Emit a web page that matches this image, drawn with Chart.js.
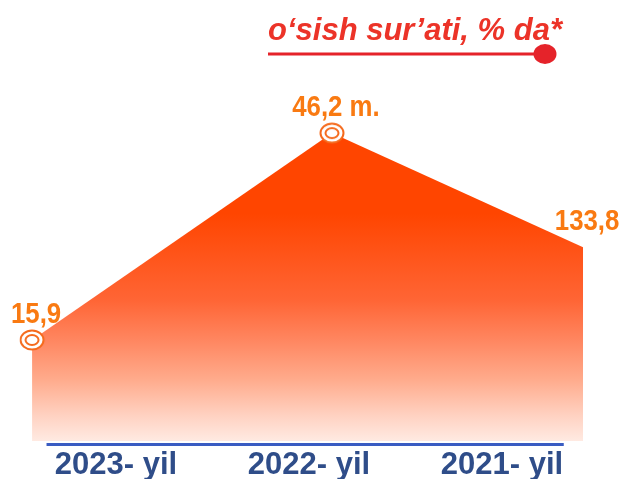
<!DOCTYPE html>
<html>
<head>
<meta charset="utf-8">
<script src="https://cdn.jsdelivr.net/npm/chart.js@4"></script>
<style>
html,body{margin:0;padding:0;background:#ffffff;overflow:hidden}
#wrap{position:relative;width:623px;height:479px}
</style>
</head>
<body>
<div id="wrap"><canvas id="c" width="623" height="479"></canvas></div>
<script>
// ---- data ----
const categories  = ['2023- yil', '2022- yil', '2021- yil'];
const valueLabels = ['15,9', '46,2 m.', '133,8'];
const pointPos    = [-0.435, 1.119, 2.42];   // where each point sits along the year axis (category units)
const heights     = [28.0, 85.3, 53.7];      // drawn height of the area at each point (% of plot height)
const legendText  = 'o\u2018sish sur\u2019ati, % da*';

// ---- styles ----
const ORANGE_TXT = '#f97a12';
const RING = '#f56a1c';
const RED = '#e5232a';
const BLUE_TXT = '#2f4d89';
const BLUE_LINE = '#3a5cc2';

function ringImage() {
  const w = 28, h = 24;
  const c = document.createElement('canvas');
  c.width = w; c.height = h;
  const g = c.getContext('2d');
  g.fillStyle = '#ffffff';
  g.strokeStyle = RING;
  g.lineWidth = 2;
  g.beginPath(); g.ellipse(w/2, h/2, 11.5, 9.5, 0, 0, Math.PI*2); g.fill(); g.stroke();
  g.beginPath(); g.ellipse(w/2, h/2, 6.5, 5, 0, 0, Math.PI*2); g.stroke();
  return c;
}
const ring = ringImage();

const valueLabelPlugin = {
  id: 'valueLabels',
  afterDatasetsDraw(chart) {
    const ctx = chart.ctx;
    const meta = chart.getDatasetMeta(0);
    meta.data.forEach((pt, i) => {
      ctx.save();
      ctx.fillStyle = ORANGE_TXT;
      ctx.font = 'bold 30px "Liberation Sans", Arial, sans-serif';
      ctx.textAlign = 'center';
      ctx.textBaseline = 'alphabetic';
      ctx.translate(pt.x + 4, pt.y - 17);
      ctx.scale(0.86, 1);
      ctx.fillText(valueLabels[i], 0, 0);
      ctx.restore();
    });
  }
};

const baselinePlugin = {
  id: 'baseline',
  afterDraw(chart, args, opts) {
    const ctx = chart.ctx;
    const xs = chart.scales.x;
    const y = chart.chartArea.bottom + 3.5;
    ctx.save();
    ctx.strokeStyle = BLUE_LINE;
    ctx.lineWidth = 3;
    ctx.beginPath();
    ctx.moveTo(xs.getPixelForValue(opts.from), y);
    ctx.lineTo(xs.getPixelForValue(opts.to), y);
    ctx.stroke();
    ctx.restore();
  }
};

const legendPlugin = {
  id: 'legendLine',
  afterDraw(chart) {
    const ctx = chart.ctx;
    ctx.save();
    ctx.fillStyle = '#ec3328';
    ctx.font = 'italic bold 31px "Liberation Sans", Arial, sans-serif';
    ctx.textAlign = 'left';
    ctx.textBaseline = 'alphabetic';
    ctx.fillText(legendText, 268, 40);
    ctx.strokeStyle = RED;
    ctx.lineWidth = 3;
    ctx.beginPath();
    ctx.moveTo(268, 54);
    ctx.lineTo(540, 54);
    ctx.stroke();
    ctx.fillStyle = RED;
    ctx.beginPath();
    ctx.ellipse(545, 54, 11.5, 10, 0, 0, Math.PI * 2);
    ctx.fill();
    ctx.restore();
  }
};

function areaGradient(context) {
  const chart = context.chart;
  const area = chart.chartArea;
  if (!area) return '#ff4500';
  const g = chart.ctx.createLinearGradient(0, area.top, 0, area.bottom);
  g.addColorStop(0.00, '#ff4500');
  g.addColorStop(0.37, '#ff4500');
  g.addColorStop(0.61, '#ff6535');
  g.addColorStop(0.72, '#ff8660');
  g.addColorStop(0.83, '#ffab8c');
  g.addColorStop(0.93, '#ffd2c2');
  g.addColorStop(1.00, '#ffeae2');
  return g;
}

new Chart(document.getElementById('c'), {
  type: 'line',
  data: {
    datasets: [{
      data: pointPos.map((x, i) => ({ x: x, y: heights[i] })),
      fill: 'origin',
      backgroundColor: areaGradient,
      borderWidth: 0,
      borderColor: 'rgba(0,0,0,0)',
      tension: 0,
      pointStyle: [ring, ring, ring],
      pointRadius: [6, 6, 0],
      pointHoverRadius: [6, 6, 0]
    }]
  },
  options: {
    responsive: false,
    animation: false,
    events: [],
    layout: { padding: { left: 19.5, right: 24.5, top: 80, bottom: -10 } },
    plugins: {
      legend: { display: false },
      title: { display: false },
      tooltip: { enabled: false },
      baseline: { from: -0.36, to: 2.32 }
    },
    scales: {
      x: {
        type: 'linear',
        min: -0.5,
        max: 2.5,
        grid: { display: false, drawTicks: false },
        border: { display: false },
        afterBuildTicks: (s) => { s.ticks = categories.map((_, i) => ({ value: i })); },
        ticks: {
          autoSkip: false,
          maxRotation: 0,
          padding: 10,
          color: BLUE_TXT,
          font: { family: '"Liberation Sans", Arial, sans-serif', size: 31, weight: 'bold', lineHeight: 0.9 },
          callback: (v) => categories[v]
        }
      },
      y: { display: false, min: 0, max: 100 }
    }
  },
  plugins: [valueLabelPlugin, baselinePlugin, legendPlugin]
});
</script>
</body>
</html>
